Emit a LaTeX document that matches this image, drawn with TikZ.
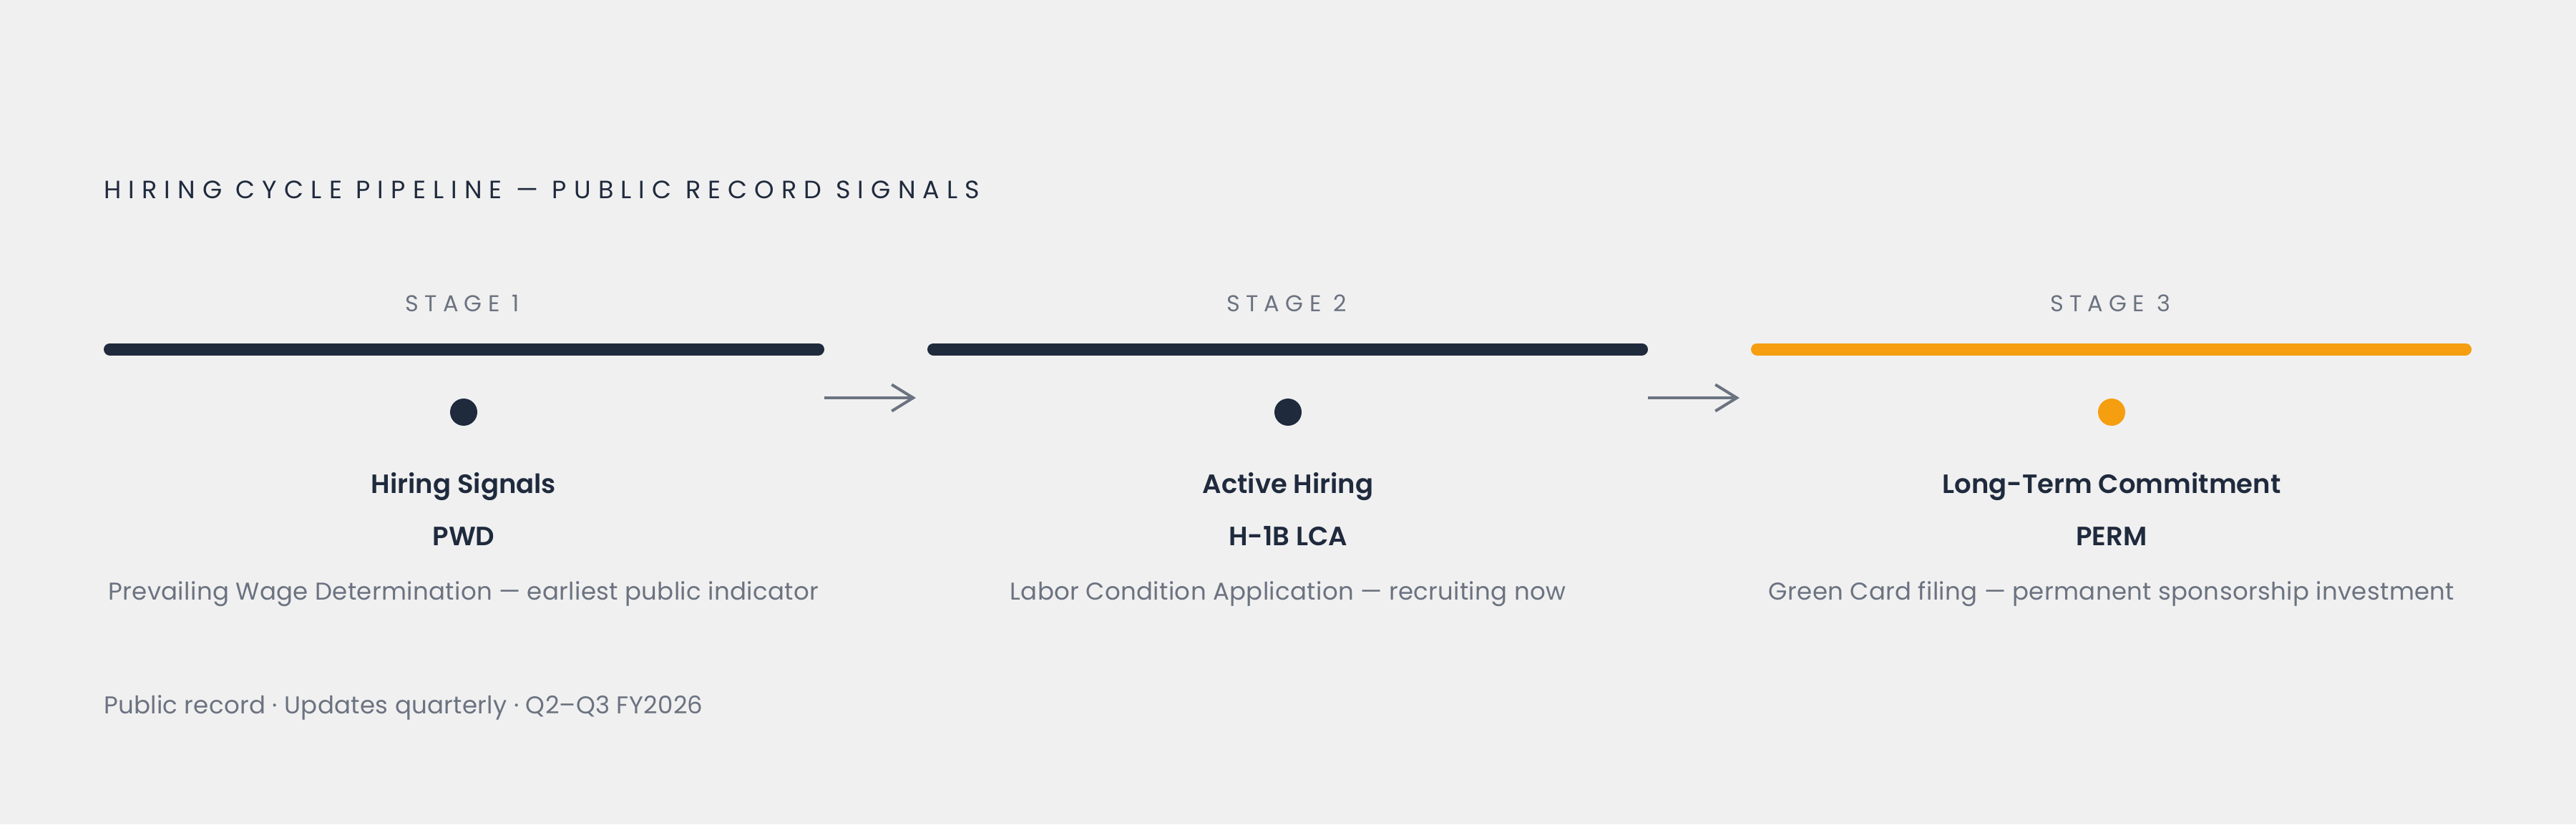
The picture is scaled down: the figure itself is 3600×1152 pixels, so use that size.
\documentclass[tikz,border=0pt]{standalone}
\usepackage{fontspec}
\setmainfont{Poppins}
\newfontfamily\titlefont[LetterSpace=29]{Poppins}
\newfontfamily\stagefont[LetterSpace=26]{Poppins}
\newfontfamily\descfont[LetterSpace=1.0]{Poppins}
\newfontfamily\namefont{Poppins SemiBold}
\usetikzlibrary{arrows.meta}
\definecolor{navy}{HTML}{1F2A3D}
\definecolor{slate}{HTML}{6B7280}
\definecolor{amber}{HTML}{F49E10}
\definecolor{bg}{HTML}{F0F0F0}
\begin{document}
\begin{tikzpicture}[x=1pt,y=-1pt,
  txt/.style={inner sep=0pt, outer sep=0pt, anchor=base},
  headtxt/.style={txt, anchor=base west, text=navy, font=\titlefont\fontsize{35}{40}\selectfont},
  stagetxt/.style={txt, text=slate, font=\stagefont\fontsize{32}{38}\selectfont},
  nametxt/.style={txt, text=navy, font=\namefont\fontsize{37}{42}\selectfont},
  desctxt/.style={txt, text=slate, font=\descfont\fontsize{34}{40}\selectfont},
  foottxt/.style={txt, anchor=base west, text=slate, font=\descfont\fontsize{34}{40}\selectfont},
  stagebar/.style={line width=17pt, line cap=round},
  stagedot/.style={circle, minimum size=38pt, inner sep=0pt},
  flow/.style={draw=slate, line width=4pt, -{Straight Barb[length=30pt,width=37pt,line width=4pt]}}
]
\fill[bg] (0,0) rectangle (3600,1152);
\useasboundingbox (0,0) rectangle (3600,1152);

\node[headtxt] (title) at (145,277) {HIRING CYCLE PIPELINE — PUBLIC RECORD SIGNALS};

% stage labels
\node[stagetxt] (s1) at (646,435) {STAGE 1};
\node[stagetxt] (s2) at (1798,435) {STAGE 2};
\node[stagetxt] (s3) at (2949,435) {STAGE 3};

% bars
\draw[stagebar, navy]  (153.5,488) -- (1143.5,488);
\draw[stagebar, navy]  (1304.5,488) -- (2294.5,488);
\draw[stagebar, amber] (2455.5,488) -- (3445.5,488);

% arrows
\coordinate (a1s) at (1152,556);
\coordinate (a1e) at (1280,556);
\coordinate (a2s) at (2303,556);
\coordinate (a2e) at (2431,556);
\draw[flow] (a1s) -- (a1e);
\draw[flow] (a2s) -- (a2e);

% dots
\node[stagedot, fill=navy]  (d1) at (648,576) {};
\node[stagedot, fill=navy]  (d2) at (1800,576) {};
\node[stagedot, fill=amber] (d3) at (2951,576) {};

% names
\node[nametxt] (n1) at (648,689) {Hiring Signals};
\node[nametxt] (n2) at (1800,689) {Active Hiring};
\node[nametxt] (n3) at (2951,689) {Long-Term Commitment};

\node[nametxt] (c1) at (648,762) {PWD};
\node[nametxt] (c2) at (1800,762) {H-1B LCA};
\node[nametxt] (c3) at (2951,762) {PERM};

\node[desctxt] (e1) at (648,838) {Prevailing Wage Determination — earliest public indicator};
\node[desctxt] (e2) at (1800,838) {Labor Condition Application — recruiting now};
\node[desctxt] (e3) at (2951,838) {Green Card filing — permanent sponsorship investment};

\node[foottxt] (foot) at (145,997) {Public record · Updates quarterly · Q2–Q3 FY2026};
\end{tikzpicture}
\end{document}
